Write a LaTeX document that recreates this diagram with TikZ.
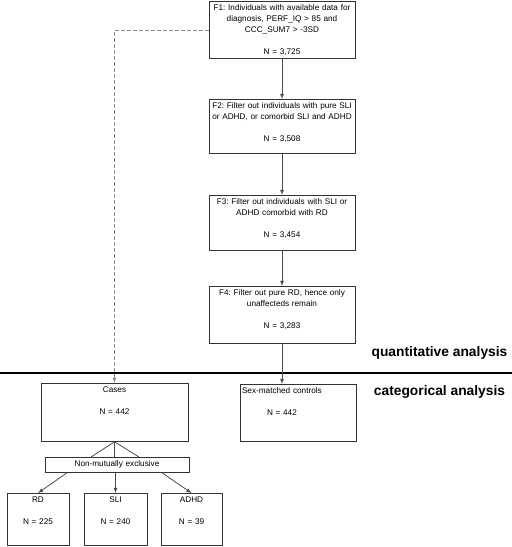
\documentclass[tikz,border=0pt]{standalone}
\usepackage{fontspec}
\setmainfont{Liberation Sans}
\frenchspacing
\hyphenpenalty=10000
\usetikzlibrary{arrows}

\begin{document}
\begin{tikzpicture}[x=1pt,y=-1pt,>=latex,
    flowbox/.style={draw=black!80, line width=0.8pt, anchor=north,
      font=\fontsize{8.2}{11}\selectfont, align=center,
      inner xsep=2pt, inner ysep=3pt, text height=6pt},
    link/.style={draw=black!70, line width=0.8pt},
    part/.style={font=\fontsize{13.8}{16}\selectfont\bfseries}]
\useasboundingbox (0,0) rectangle (512,547);

\node[flowbox, text width=142pt, text depth=45pt] (f1) at (282,1)
    {F1: Individuals with available data for\\
     diagnosis, PERF\_IQ > 85 and\\
     CCC\_SUM7 > -3SD\\[11pt]
     N = 3,725};
\node[flowbox, text width=142pt, text depth=42pt] (f2) at (282,99)
    {F2: Filter out individuals with pure SLI\\
     or ADHD, or comorbid SLI and ADHD\\[11pt]
     N = 3,508};
\node[flowbox, text width=142pt, text depth=43pt] (f3) at (282,195)
    {F3: Filter out individuals with SLI or\\
     ADHD comorbid with RD\\[11pt]
     N = 3,454};
\node[flowbox, text width=142pt, text depth=45pt] (f4) at (282,286)
    {F4: Filter out pure RD, hence only\\
     unaffecteds remain\\[11pt]
     N = 3,283};

\node[part] (quant) at (439.5,353) {quantitative analysis};
\node[part] (categ) at (439.5,392) {categorical analysis};

\node[flowbox, text width=143pt, text depth=46pt] (cases) at (114.5,383)
    {Cases\\[11pt]
     N = 442};
\node[flowbox, text width=112pt, text depth=45pt, align=left] (ctrl) at (298,384)
    {Sex-matched controls\\[11pt]
     \hspace*{25pt}N = 442};
\node[flowbox, text width=140pt, text depth=2pt, inner ysep=3.5pt] (excl) at (117,457)
    {Non-mutually exclusive};

\node[flowbox, text width=58pt, text depth=40pt] (rd) at (38,493)
    {RD\\[11pt]
     N = 225};
\node[flowbox, text width=59pt, text depth=40pt] (sli) at (115.5,493)
    {SLI\\[11pt]
     N = 240};
\node[flowbox, text width=57pt, text depth=40pt] (adhd) at (191.5,493)
    {ADHD\\[11pt]
     N = 39};

% split between the two kinds of analysis
\draw[line width=2.5pt] (0,373) -- (512,373);

\draw[link,->] (f1) -- (f2);
\draw[link,->] (f2) -- (f3);
\draw[link,->] (f3) -- (f4);
\draw[link,->] (f4.south) -- (f4.south |- ctrl.north);
\draw[link,->,draw=black!45,dash pattern=on 4pt off 2pt] (f1.west) -| (cases.north);

\draw[link] (cases.south) -- ([xshift=-26pt]excl.north);
\draw[link] (cases.south) -- (excl.north -| cases.south);
\draw[link] (cases.south) -- ([xshift=22pt]excl.north);
\draw[link,->] ([xshift=-50pt]excl.south) -- (rd.north);
\draw[link,->] (excl.south -| sli.north) -- (sli.north);
\draw[link,->] ([xshift=45pt]excl.south) -- (adhd.north);
\end{tikzpicture}
\end{document}
